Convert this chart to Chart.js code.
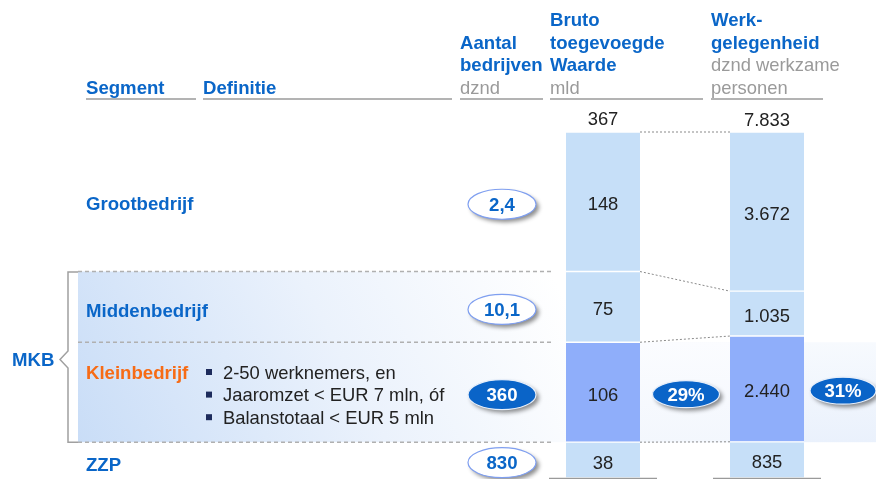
<!DOCTYPE html>
<html>
<head>
<meta charset="utf-8">
<script src="https://cdn.jsdelivr.net/npm/chart.js@4/dist/chart.umd.min.js"></script>
<style>
html,body{margin:0;padding:0;background:#fff;}
#wrap{position:relative;width:876px;height:479px;overflow:hidden;}
canvas{display:block;}
</style>
</head>
<body>
<div id="wrap"><canvas id="c" width="876" height="479"></canvas></div>
<script>
// ---- data ----
const categories = ['Grootbedrijf', 'Middenbedrijf', 'Kleinbedrijf', 'ZZP'];
const btwValues = [148, 75, 106, 38];          // Bruto toegevoegde Waarde, mld
const werkValues = [3672, 1035, 2440, 835];    // Werkgelegenheid, dznd werkzame personen
const bedrijvenLabels = ['2,4', '10,1', '360', '830']; // Aantal bedrijven, dznd
const totals = [367, 7833];
const shares = ['29%', '31%'];
const columns = ['Bruto toegevoegde Waarde', 'Werkgelegenheid'];
const kleinDefinitie = ['2-50 werknemers, en', 'Jaaromzet < EUR 7 mln, óf', 'Balanstotaal < EUR 5 mln'];

const FONT = '"Liberation Sans", Arial, Helvetica, sans-serif';
const BLUE = '#0a66c8';
const ORANGE = '#f76b15';
const GREY = '#9a9a9a';
const DARK = '#222222';
const LIGHT = '#c6dff8';
const KLEIN = '#8faefa';

function fmt(n) { return String(n).replace(/\B(?=(\d{3})+(?!\d))/g, '.'); }

const datasets = [];
const idx1 = [], idx2 = [];
for (let i = categories.length - 1; i >= 0; i--) {
  idx1[i] = datasets.length;
  datasets.push({ label: categories[i], data: [btwValues[i], null], yAxisID: 'y1', stack: 'a', grouped: false,
    backgroundColor: i === 2 ? KLEIN : LIGHT, borderColor: '#ffffff',
    borderWidth: { top: 1, bottom: 1, left: 0, right: 0 }, borderSkipped: false, barThickness: 74 });
}
for (let i = categories.length - 1; i >= 0; i--) {
  idx2[i] = datasets.length;
  datasets.push({ label: categories[i], data: [null, werkValues[i]], yAxisID: 'y2', stack: 'b', grouped: false,
    backgroundColor: i === 2 ? KLEIN : LIGHT, borderColor: '#ffffff',
    borderWidth: { top: 1, bottom: 1, left: 0, right: 0 }, borderSkipped: false, barThickness: 74 });
}

function seg(chart, di) {
  const e = chart.getDatasetMeta(di).data[chart.data.datasets[di].yAxisID === 'y1' ? 0 : 1];
  const top = Math.min(e.y, e.base), bot = Math.max(e.y, e.base);
  return { x: e.x, top, bot, mid: (top + bot) / 2, left: e.x - e.width / 2, right: e.x + e.width / 2 };
}

function txt(ctx, s, x, y, font, color, align) {
  ctx.font = font; ctx.fillStyle = color; ctx.textAlign = align || 'left'; ctx.textBaseline = 'alphabetic';
  ctx.fillText(s, x, y);
}

function ellipse(ctx, cx, cy, rx, ry, filled, s) {
  ctx.save();
  ctx.shadowColor = 'rgba(0,0,0,0.45)'; ctx.shadowBlur = 4; ctx.shadowOffsetX = 3; ctx.shadowOffsetY = 3;
  ctx.beginPath(); ctx.ellipse(cx, cy, rx, ry, 0, 0, Math.PI * 2);
  ctx.fillStyle = filled ? '#0a64c8' : '#ffffff'; ctx.fill();
  ctx.restore();
  ctx.save();
  ctx.beginPath(); ctx.ellipse(cx, cy, rx, ry, 0, 0, Math.PI * 2);
  ctx.lineWidth = 1.2; ctx.strokeStyle = filled ? '#e6eefa' : '#7f9ff0'; ctx.stroke();
  ctx.restore();
  txt(ctx, s, cx, cy + 6.5, 'bold 18.6px ' + FONT, filled ? '#ffffff' : BLUE, 'center');
}

const overlay = {
  id: 'overlay',
  beforeDatasetsDraw(chart) {
    const ctx = chart.ctx;
    const s1 = categories.map((c, i) => seg(chart, idx1[i]));
    const s2 = categories.map((c, i) => seg(chart, idx2[i]));
    const bandTop = s1[1].top, bandMid = s1[2].top, bandBot = s1[2].bot;
    ctx.save();
    // MKB band
    let g = ctx.createLinearGradient(78, bandBot, 520, bandTop - 60);
    g.addColorStop(0, '#c9ddf7'); g.addColorStop(0.55, '#ebf2fc'); g.addColorStop(1, '#ffffff');
    ctx.fillStyle = g; ctx.fillRect(78, bandTop, s1[0].left - 78, bandBot - bandTop);
    g = ctx.createLinearGradient(0, bandMid, 0, bandBot);
    g.addColorStop(0, '#f7fafe'); g.addColorStop(1, '#eaf1fc');
    ctx.fillStyle = g; ctx.fillRect(s1[0].right, bandMid, 876 - s1[0].right, bandBot - bandMid);
    g = ctx.createLinearGradient(0, bandMid, 0, bandBot);
    g.addColorStop(0, '#fbfcff'); g.addColorStop(1, '#f3f7fd');
    ctx.fillStyle = g; ctx.fillRect(s1[0].right, bandMid, s2[0].left - s1[0].right, bandBot - bandMid);
    // row separators
    ctx.strokeStyle = '#b0b0b0'; ctx.lineWidth = 1.5; ctx.setLineDash([4, 3]);
    [bandTop, bandMid, bandBot].forEach(y => { ctx.beginPath(); ctx.moveTo(78, y); ctx.lineTo(552, y); ctx.stroke(); });
    ctx.setLineDash([]);
    // bracket
    ctx.strokeStyle = '#a0a0a0'; ctx.lineWidth = 1.5;
    ctx.beginPath();
    ctx.moveTo(78, bandTop + 0.5); ctx.lineTo(68, bandTop + 0.5); ctx.lineTo(68, 351);
    ctx.lineTo(60, 359.5); ctx.lineTo(68, 368); ctx.lineTo(68, bandBot); ctx.lineTo(78, bandBot);
    ctx.stroke();
    // connectors between columns
    ctx.strokeStyle = '#8a8a8a'; ctx.lineWidth = 1; ctx.setLineDash([2, 2]);
    const pairs = [[s1[0].top, s2[0].top], [s1[0].bot, s2[0].bot], [s1[1].bot, s2[1].bot], [s1[2].bot, s2[2].bot]];
    pairs.forEach(p => { ctx.beginPath(); ctx.moveTo(s1[0].right, p[0]); ctx.lineTo(s2[0].left, p[1]); ctx.stroke(); });
    ctx.setLineDash([]);
    ctx.restore();
  },
  afterDatasetsDraw(chart) {
    const ctx = chart.ctx;
    const s1 = categories.map((c, i) => seg(chart, idx1[i]));
    const s2 = categories.map((c, i) => seg(chart, idx2[i]));
    ctx.save();
    const HB = 'bold 18.6px ' + FONT, HR = '18.4px ' + FONT;
    // headers
    txt(ctx, 'Segment', 86, 94, HB, BLUE);
    txt(ctx, 'Definitie', 203, 94, HB, BLUE);
    txt(ctx, 'Aantal', 460, 48.6, HB, BLUE);
    txt(ctx, 'bedrijven', 460, 71.2, HB, BLUE);
    txt(ctx, 'dznd', 460, 93.8, HR, GREY);
    txt(ctx, 'Bruto', 550, 26, HB, BLUE);
    txt(ctx, 'toegevoegde', 550, 48.6, HB, BLUE);
    txt(ctx, 'Waarde', 550, 71.2, HB, BLUE);
    txt(ctx, 'mld', 550, 93.8, HR, GREY);
    txt(ctx, 'Werk-', 711, 26, HB, BLUE);
    txt(ctx, 'gelegenheid', 711, 48.6, HB, BLUE);
    txt(ctx, 'dznd werkzame', 711, 71.2, HR, GREY);
    txt(ctx, 'personen', 711, 93.8, HR, GREY);
    ctx.strokeStyle = '#9a9a9a'; ctx.lineWidth = 1.5;
    [[86, 196], [203, 452], [460, 543], [550, 703], [711, 823]].forEach(u => {
      ctx.beginPath(); ctx.moveTo(u[0], 99); ctx.lineTo(u[1], 99); ctx.stroke();
    });
    [[549, 657], [713, 821]].forEach(u => {
      ctx.beginPath(); ctx.moveTo(u[0], 478.5); ctx.lineTo(u[1], 478.5); ctx.stroke();
    });
    // totals
    txt(ctx, fmt(totals[0]), s1[0].x, s1[0].top - 7.5, HR, DARK, 'center');
    txt(ctx, fmt(totals[1]), s2[0].x, s2[0].top - 6.5, HR, DARK, 'center');
    // segment labels
    categories.forEach((c, i) => {
      txt(ctx, fmt(btwValues[i]), s1[i].x, s1[i].mid + 8.5, HR, DARK, 'center');
      txt(ctx, fmt(werkValues[i]), s2[i].x, s2[i].mid + 8, HR, DARK, 'center');
    });
    // row labels
    txt(ctx, categories[0], 86, s1[0].mid + 8.5, HB, BLUE);
    txt(ctx, categories[1], 86, s1[1].mid + 10.5, HB, BLUE);
    txt(ctx, categories[2], 86, 378.5, HB, ORANGE);
    txt(ctx, categories[3], 86, s1[3].mid + 11, HB, BLUE);
    txt(ctx, 'MKB', 12, 366, HB, BLUE);
    kleinDefinitie.forEach((d, k) => {
      const base = 378.5 + k * 22.6;
      ctx.fillStyle = '#1d2b5c'; ctx.fillRect(206, base - 9.5, 6, 6);
      txt(ctx, d, 223, base, HR, DARK);
    });
    // aantal bedrijven ellipses
    categories.forEach((c, i) => {
      ellipse(ctx, 502, s1[i].mid + 2.5, 34, 15, i === 2, bedrijvenLabels[i]);
    });
    // shares
    ellipse(ctx, 686, s1[2].mid + 2, 33.5, 13.5, true, shares[0]);
    ellipse(ctx, 843, s1[2].mid - 1.5, 33, 13.5, true, shares[1]);
    ctx.restore();
  }
};

new Chart(document.getElementById('c'), {
  type: 'bar',
  data: { labels: columns, datasets },
  options: {
    responsive: false,
    devicePixelRatio: 1,
    animation: false,
    layout: { padding: { left: 521, right: 27, top: 132, bottom: 1 } },
    plugins: { legend: { display: false }, tooltip: { enabled: false } },
    scales: {
      x: { display: false, stacked: true, grid: { display: false } },
      y1: { display: false, stacked: true, min: 0, max: btwValues.reduce((a, b) => a + b, 0) },
      y2: { display: false, stacked: true, min: 0, max: werkValues.reduce((a, b) => a + b, 0) }
    }
  },
  plugins: [overlay]
});
</script>
</body>
</html>
